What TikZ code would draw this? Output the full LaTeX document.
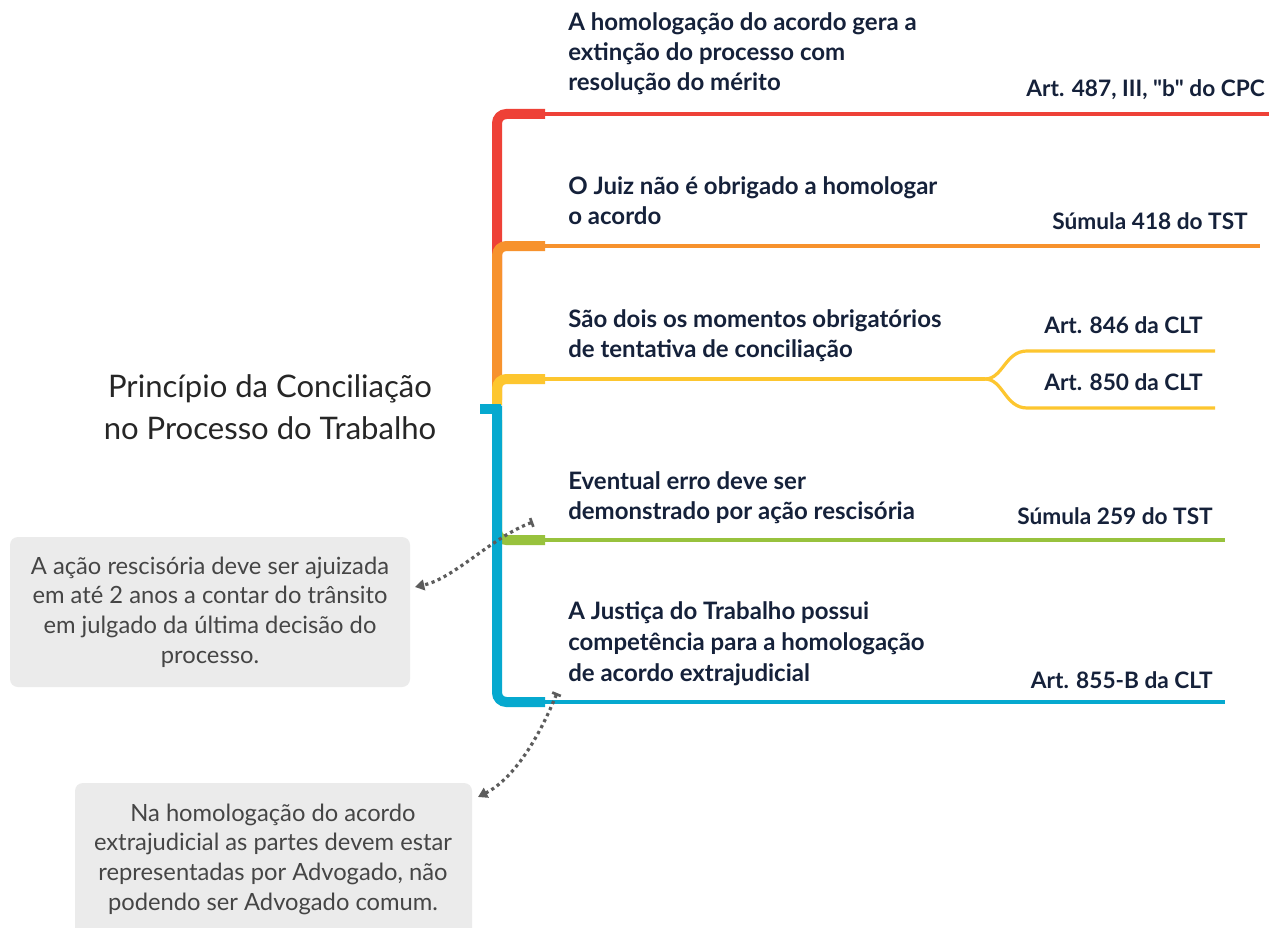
\documentclass[tikz,border=0pt]{standalone}
\usepackage{fontspec}
\setmainfont{Lato}
\usetikzlibrary{arrows.meta}
\newcommand\strq{\XeTeXglyph\XeTeXcharglyph"22\relax}
\definecolor{cred}{HTML}{EE4137}
\definecolor{corange}{HTML}{F7922D}
\definecolor{cyellow}{HTML}{FDC62F}
\definecolor{cgreen}{HTML}{98C23D}
\definecolor{cblue}{HTML}{06A9CF}
\definecolor{navy}{HTML}{15213A}
\definecolor{boxgray}{HTML}{EBEBEB}
\definecolor{boxtext}{HTML}{454545}
\definecolor{dotgray}{HTML}{5C5C5C}
\tikzset{
  thickbr/.style={line width=7.5pt, rounded corners=7pt},
  thinbr/.style={line width=2.4pt},
  lbl/.style={inner sep=0pt, anchor=base west, align=left, text=navy,
    font=\fontsize{18}{22.5}\selectfont\bfseries},
  ref/.style={inner sep=0pt, anchor=base east, text=navy,
    font=\fontsize{17}{22}\selectfont\bfseries},
  callout/.style={fill=boxgray, rounded corners=6pt},
  ctext/.style={inner sep=0pt, anchor=base, align=center, text=boxtext,
    font=\fontsize{17.8}{22.2}\selectfont},
  dotcon/.style={draw=dotgray, line width=2.4pt, dash pattern=on 2.4pt off 2.6pt,
    {Bar[width=7pt,line width=2pt]}-{Triangle[width=8pt,length=7pt]}},
}
\begin{document}
\begin{tikzpicture}[x=0.75pt,y=-0.75pt]
\useasboundingbox (0,0) rectangle (1269,927);
\clip (0,0) rectangle (1269,927);
\fill[white] (0,0) rectangle (1269,927);

% title
\node[inner sep=0pt, anchor=base, align=center, text=black!85,
  font=\fontsize{23.3}{31.5}\selectfont] (title) at (270,439)
  {Princípio da Conciliação\\no Processo do Trabalho};
\coordinate (root) at (480,409);

% red
\draw[cred, thickbr] (497,300) -- (497,114) -- (545,114);
\draw[cred, thinbr] (540,114) -- (1269,114);
% orange
\draw[corange, thickbr] (497,400) -- (497,246) -- (545,246);
\draw[corange, thinbr] (540,246) -- (1260,246);
% yellow
\draw[cyellow, thickbr] (497,405) -- (497,379) -- (545,379);
\draw[cyellow, thinbr] (540,379) -- (985,379) coordinate (ysplit);
\draw[cyellow, thinbr] (ysplit) .. controls (1003,379) and (1005,351) .. (1027,351) -- (1215,351);
\draw[cyellow, thinbr] (ysplit) .. controls (1003,379) and (1005,408) .. (1027,408) -- (1215,408);
% green
\draw[cgreen, thickbr] (497,420) -- (497,540) -- (545,540);
\draw[cgreen, thinbr] (540,540) -- (1225,540);
% blue
\draw[cblue, line width=7.5pt] (root) -- (501,409);
\draw[cblue, thickbr] (497,405.5) -- (497,702) -- (545,702);
\draw[cblue, thinbr] (540,702) -- (1225,702);

% labels
\node[lbl] (t1) at (568,91) {A homologação do acordo gera a\\extinção do processo com\\resolução do mérito};
\node[ref] (r1) at (1265,97) {Art. 487, III, \strq b\strq{} do CPC};
\node[lbl] (t2) at (568,224) {O Juiz não é obrigado a homologar\\o acordo};
\node[ref] (r2) at (1248,229) {Súmula 418 do TST};
\node[lbl] (t3) at (568,357) {São dois os momentos obrigatórios\\de tentativa de conciliação};
\node[ref] (r3a) at (1203,333) {Art. 846 da CLT};
\node[ref] (r3b) at (1203,390) {Art. 850 da CLT};
\node[lbl] (t4) at (568,519) {Eventual erro deve ser\\demonstrado por ação rescisória};
\node[ref] (r4) at (1213,524) {Súmula 259 do TST};
\node[lbl, font=\fontsize{18}{23.2}\selectfont\bfseries] (t5) at (568,681) {A Justiça do Trabalho possui\\competência para a homologação\\de acordo extrajudicial};
\node[ref] (r5) at (1213,688) {Art. 855-B da CLT};

% callouts
\fill[callout] (10,537) rectangle (410,687);
\coordinate (c1) at (415,587);
\node[ctext] (n1) at (210,663) {A ação rescisória deve ser ajuizada\\em até 2 anos a contar do trânsito\\em julgado da última decisão do\\processo.};
\fill[callout] (75,783) rectangle (472,945);
\coordinate (c2) at (478,797);
\node[ctext] (n2) at (273,910) {Na homologação do acordo\\extrajudicial as partes devem estar\\representadas por Advogado, não\\podendo ser Advogado comum.};

% dotted connectors
\coordinate (s1) at (533,522);
\coordinate (s2) at (557,693);
\draw[dotcon] (s1) .. controls (492,537) and (455,578) .. (c1);
\draw[dotcon] (s2) .. controls (540,735) and (515,778) .. (c2);
\end{tikzpicture}
\end{document}
